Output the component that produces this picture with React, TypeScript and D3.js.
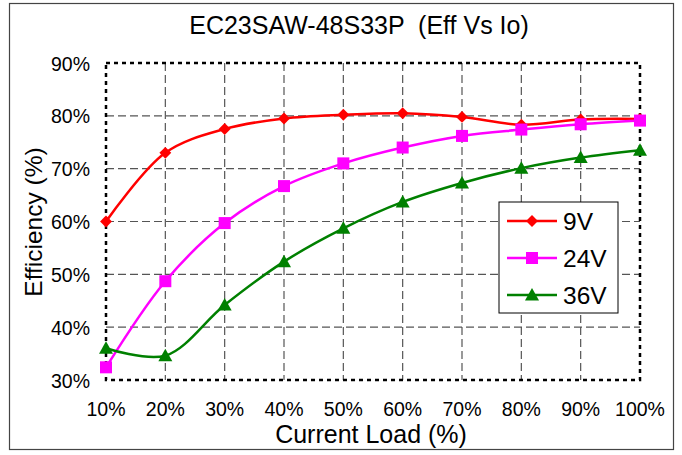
import React from "react";
import * as d3 from "d3";

const loads = [10, 20, 30, 40, 50, 60, 70, 80, 90, 100];
const eff9V = [60.0, 73.0, 77.5, 79.5, 80.2, 80.5, 79.8, 78.3, 79.3, 79.4];
const eff24V = [32.4, 48.7, 59.7, 66.7, 71.0, 74.0, 76.2, 77.4, 78.4, 79.1];
const eff36V = [36.0, 34.6, 44.2, 52.4, 58.7, 63.7, 67.3, 70.1, 72.1, 73.5];
const yTicks = [30, 40, 50, 60, 70, 80, 90];
const seriesNames = ["9V", "24V", "36V"];
const seriesColors = ["#ff0000", "#ff00ff", "#008000"];
const seriesMarkers = ["diamond", "square", "triangle"];

const W = 682;
const H = 455;
const L = 106, R = 640, T = 63, B = 380;

function Marker({ type, x, y, color }: { type: string; x: number; y: number; color: string }) {
  if (type === "diamond") {
    const s = d3.symbol(d3.symbolDiamond2, 90)();
    return <path d={s || ""} transform={`translate(${x},${y})`} fill={color} />;
  }
  if (type === "square") {
    return <rect x={x - 6} y={y - 6} width={12} height={12} fill={color} />;
  }
  return <path d={`M${x},${y - 7}L${x + 7},${y + 5.5}L${x - 7},${y + 5.5}Z`} fill={color} />;
}

export default function App() {
  const x = d3.scaleLinear().domain([10, 100]).range([L, R]);
  const y = d3.scaleLinear().domain([30, 90]).range([B, T]);
  const data = [eff9V, eff24V, eff36V];
  const line = d3
    .line<number>()
    .x((_, i) => x(loads[i]))
    .y((d) => y(d))
    .curve(d3.curveCatmullRom.alpha(0.5));
  const font = "Arial, 'Liberation Sans', sans-serif";
  const legX = 499, legY = 202;
  return (
    <svg width={W} height={H} style={{ position: "absolute", left: 0, top: 0 }} fontFamily={font}>
      <rect x={0} y={0} width={W} height={H} fill="#fff" />
      <rect x={9.5} y={3.5} width={664} height={446} fill="none" stroke="#444" strokeWidth={1.2} />
      <text x={359} y={34} textAnchor="middle" fontSize={25} fill="#000" style={{ whiteSpace: "pre" }}>
        {"EC23SAW-48S33P  (Eff Vs Io)"}
      </text>
      {/* grid */}
      {yTicks.slice(1, -1).map((t) => (
        <line key={"gy" + t} x1={L} x2={R} y1={y(t)} y2={y(t)} stroke="#555" strokeWidth={1.2} strokeDasharray="8,4" />
      ))}
      {loads.slice(1, -1).map((t) => (
        <line key={"gx" + t} x1={x(t)} x2={x(t)} y1={T} y2={B} stroke="#555" strokeWidth={1.2} strokeDasharray="8,4" />
      ))}
      {/* plot border */}
      <rect x={L} y={T} width={R - L} height={B - T} fill="none" stroke="#000" strokeWidth={2.5} strokeDasharray="4,4" />
      {/* y tick labels */}
      {yTicks.map((t) => (
        <text key={"yt" + t} x={90} y={y(t) + 7.5} textAnchor="end" fontSize={19.5} fill="#000">
          {t}%
        </text>
      ))}
      {loads.map((t) => (
        <text key={"xt" + t} x={x(t)} y={416} textAnchor="middle" fontSize={19.5} fill="#000">
          {t}%
        </text>
      ))}
      <text x={371} y={443} textAnchor="middle" fontSize={25} fill="#000">
        Current Load (%)
      </text>
      <text transform={`translate(42,222) rotate(-90)`} textAnchor="middle" fontSize={24.5} fill="#000">
        Efficiency (%)
      </text>
      {/* series */}
      {data.map((d, si) => (
        <g key={"s" + si}>
          <path d={line(d) || ""} fill="none" stroke={seriesColors[si]} strokeWidth={2.5} />
          {d.map((v, i) => (
            <Marker key={i} type={seriesMarkers[si]} x={x(loads[i])} y={y(v)} color={seriesColors[si]} />
          ))}
        </g>
      ))}
      {/* legend */}
      <rect x={legX} y={legY} width={119} height={111} fill="#fff" stroke="#000" strokeWidth={1} />
      {seriesNames.map((n, i) => {
        const ly = legY + 19 + i * 37;
        return (
          <g key={"lg" + n}>
            <line x1={legX + 8} x2={legX + 58} y1={ly} y2={ly} stroke={seriesColors[i]} strokeWidth={2.5} />
            <Marker type={seriesMarkers[i]} x={legX + 33} y={ly} color={seriesColors[i]} />
            <text x={legX + 64} y={ly + 8.5} fontSize={24.5} fill="#000">
              {n}
            </text>
          </g>
        );
      })}
    </svg>
  );
}
